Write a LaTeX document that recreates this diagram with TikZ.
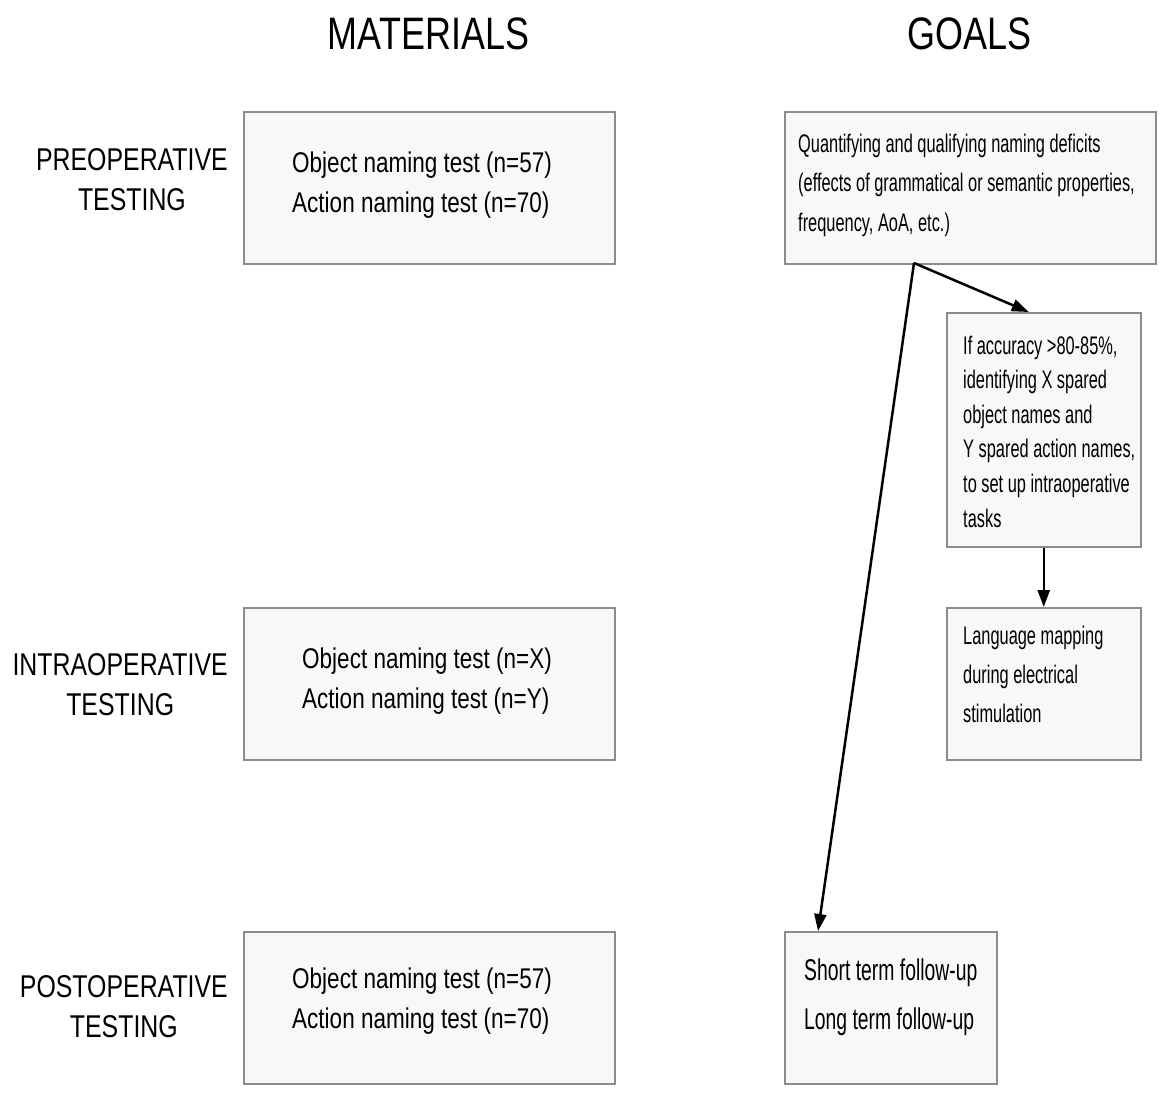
\documentclass[tikz,border=0pt]{standalone}
\usepackage{fontspec}
\setmainfont{Liberation Sans}[FakeStretch=0.79]
\newfontfamily\narrowfont{Liberation Sans}[FakeStretch=0.645]
\usetikzlibrary{arrows.meta}
\definecolor{boxline}{HTML}{8C8C8C}
\definecolor{boxfill}{HTML}{F8F8F8}

\begin{document}
\begin{tikzpicture}[x=1pt,y=-1pt,
  box/.style={draw=boxline,fill=boxfill,line width=1.5pt,inner sep=0pt,anchor=north west},
  txt/.style={inner sep=0pt,anchor=north west,align=left},
  head/.style={inner sep=0pt,anchor=base,font=\fontsize{45.5}{50}\selectfont},
  phase/.style={inner sep=0pt,anchor=north east,align=center,font=\fontsize{31.5}{40}\selectfont},
  arr/.style={line width=2.5pt,-{Triangle[length=17pt,width=12pt]}}]
  \useasboundingbox (0,0) rectangle (1159,1093);
  % column titles
  \node[head] (mat) at (428.5,49.5) {MATERIALS};
  \node[head] (goals) at (969.5,49.5) {GOALS};
  % phases
  \node[phase] (pre) at (228,148.5) {PREOPERATIVE\\TESTING};
  \node[phase] (intra) at (228,653.5) {INTRAOPERATIVE\\TESTING};
  \node[phase] (post) at (228,975.5) {POSTOPERATIVE\\TESTING};
  % materials
  \node[box,minimum width=371pt,minimum height=152pt] (mpre) at (243,111) {};
  \node[box,minimum width=371pt,minimum height=152pt] (mintra) at (243,607) {};
  \node[box,minimum width=371pt,minimum height=152pt] (mpost) at (243,931) {};
  \node[txt,font=\fontsize{28.5}{40}\selectfont] (mpretxt) at (292,152) {Object naming test (n=57)\\Action naming test (n=70)};
  \node[txt,font=\fontsize{28.5}{40}\selectfont] (mintratxt) at (302,648) {Object naming test (n=X)\\Action naming test (n=Y)};
  \node[txt,font=\fontsize{28.5}{40}\selectfont] (mposttxt) at (292,968) {Object naming test (n=57)\\Action naming test (n=70)};
  % goals
  \node[box,minimum width=371pt,minimum height=152pt] (quant) at (784,111) {};
  \node[box,minimum width=194pt,minimum height=234pt] (spare) at (946,312) {};
  \node[box,minimum width=194pt,minimum height=152pt] (lmap) at (946,607) {};
  \node[box,minimum width=212pt,minimum height=152pt] (fup) at (784,931) {};
  \node[txt,font=\narrowfont\fontsize{25.4}{39.5}\selectfont] (quanttxt) at (798,133.5) {Quantifying and qualifying naming deficits\\(effects of grammatical or semantic properties,\\frequency, AoA, etc.)};
  \node[txt,font=\narrowfont\fontsize{25.4}{34.6}\selectfont] (sparetxt) at (963,335.5) {If accuracy >80-85\%,\\identifying X spared\\object names and\\Y spared action names,\\to set up intraoperative\\tasks};
  \node[txt,font=\narrowfont\fontsize{25.4}{39}\selectfont] (lmaptxt) at (963,625.5) {Language mapping\\during electrical\\stimulation};
  \node[txt,font=\narrowfont\fontsize{30}{49}\selectfont] (fuptxt) at (804,959) {Short term follow-up\\Long term follow-up};
  % arrows
  \coordinate (split) at (914,263);
  \draw[arr] (split) -- ([xshift=-15pt]spare.north);
  \draw[arr] (split) -- ([xshift=34pt]fup.north west);
  \draw[arr] (spare.south) -- (lmap.north);
\end{tikzpicture}
\end{document}
